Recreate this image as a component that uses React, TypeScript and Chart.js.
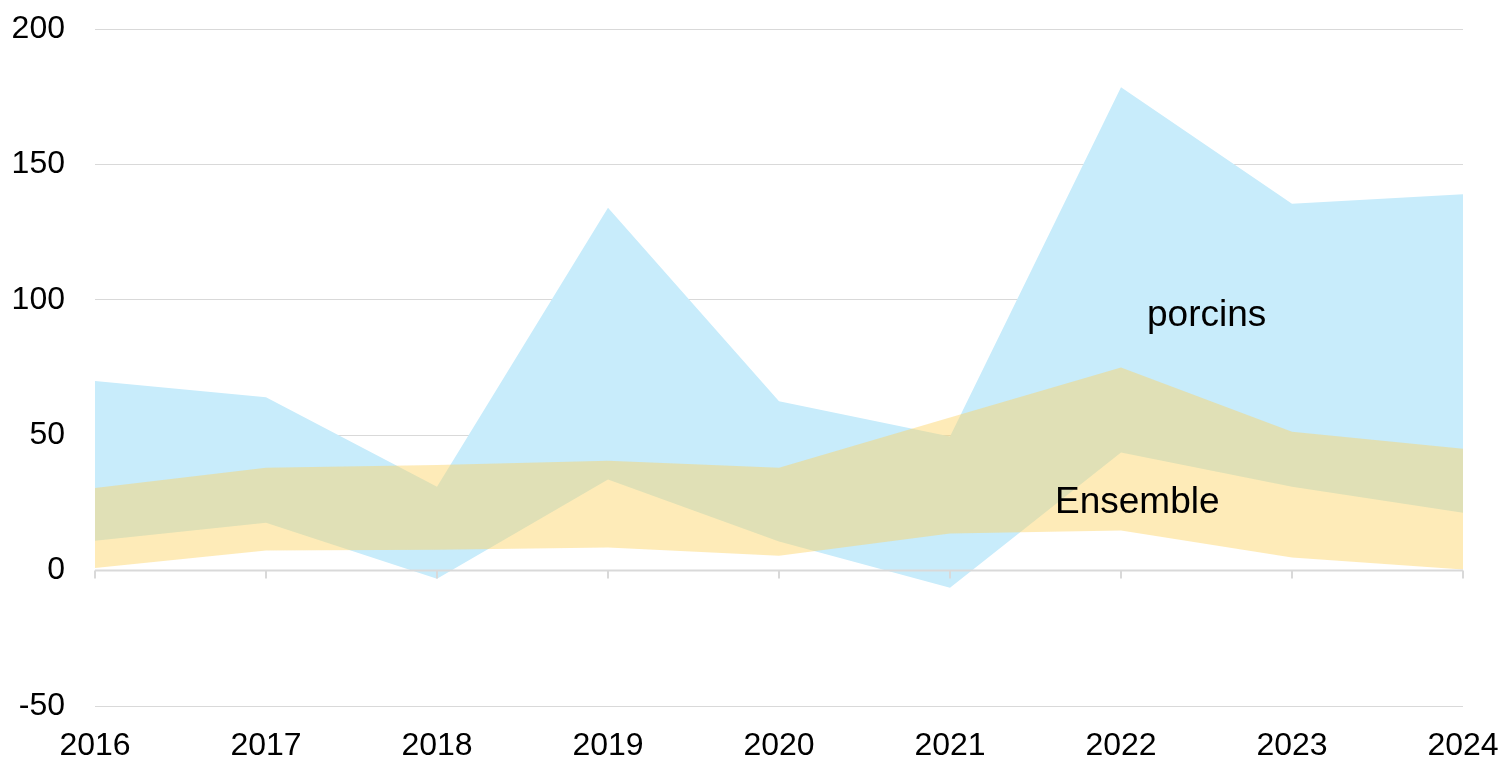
import React, { useEffect, useRef } from "react";
import { Chart, registerables } from "chart.js";

Chart.register(...registerables);

const years = ["2016", "2017", "2018", "2019", "2020", "2021", "2022", "2023", "2024"];
const porcinsHigh = [70, 64, 31, 134, 62.5, 49.5, 178.5, 135.5, 139];
const porcinsLow = [11, 17.7, -3, 33.6, 10.7, -6.3, 43.6, 31, 21.4];
const ensembleHigh = [30.5, 38, 39, 40.6, 38, 56.5, 75, 51.3, 45];
const ensembleLow = [1, 7.4, 7.7, 8.5, 5.5, 13.7, 14.8, 4.8, 0.4];
const yTicks = [-50, 0, 50, 100, 150, 200];

const FONT = "'Liberation Sans', Arial, sans-serif";

const zeroTicksPlugin = {
  id: "zeroTicks",
  afterDatasetsDraw(chart: any) {
    const { ctx, scales } = chart;
    const x = scales.x;
    const y = scales.y;
    const y0 = y.getPixelForValue(0);
    ctx.save();
    ctx.strokeStyle = "#d9d9d9";
    ctx.lineWidth = 2;
    ctx.beginPath();
    ctx.moveTo(x.left, y0);
    ctx.lineTo(x.right, y0);
    for (let i = 0; i < years.length; i++) {
      const px = x.getPixelForValue(i);
      ctx.moveTo(px, y0);
      ctx.lineTo(px, y0 + 8);
    }
    ctx.stroke();
    ctx.restore();
  },
};

const labelsPlugin = {
  id: "bandLabels",
  afterDatasetsDraw(chart: any) {
    const { ctx, scales } = chart;
    const x = scales.x;
    const y = scales.y;
    ctx.save();
    ctx.fillStyle = "#000000";
    ctx.font = `37px ${FONT}`;
    ctx.textAlign = "left";
    ctx.textBaseline = "middle";
    ctx.fillText("porcins", x.getPixelForValue(6) + 26, y.getPixelForValue(94));
    ctx.fillText("Ensemble", x.getPixelForValue(5) + 105, y.getPixelForValue(25));
    ctx.restore();
  },
};

export default function App() {
  const ref = useRef<HTMLCanvasElement | null>(null);

  useEffect(() => {
    document.body.style.margin = "0";
    const canvas = ref.current;
    if (!canvas) return;
    const chart = new Chart(canvas, {
      type: "line",
      data: {
        labels: years,
        datasets: [
          {
            label: "Ensemble haut",
            data: ensembleHigh,
            fill: "+1",
            backgroundColor: "rgba(253,211,97,0.45)",
            borderWidth: 0,
            pointRadius: 0,
            tension: 0,
          },
          {
            label: "Ensemble bas",
            data: ensembleLow,
            fill: false,
            borderWidth: 0,
            pointRadius: 0,
            tension: 0,
          },
          {
            label: "porcins haut",
            data: porcinsHigh,
            fill: "+1",
            backgroundColor: "#c8ecfb",
            borderWidth: 0,
            pointRadius: 0,
            tension: 0,
          },
          {
            label: "porcins bas",
            data: porcinsLow,
            fill: false,
            borderWidth: 0,
            pointRadius: 0,
            tension: 0,
          },
        ],
      },
      options: {
        animation: false,
        responsive: false,
        maintainAspectRatio: false,
        layout: { padding: { left: 0, right: 40, top: 29, bottom: 0 } },
        plugins: {
          legend: { display: false },
          tooltip: { enabled: false },
        },
        scales: {
          x: {
            type: "category",
            offset: false,
            grid: { display: false, drawTicks: false },
            border: { display: false },
            ticks: {
              color: "#000000",
              font: { family: FONT, size: 32 },
              padding: 21,
              maxRotation: 0,
              autoSkip: false,
            },
            afterFit(scale: any) {
              scale.height = 54;
              scale.paddingLeft = 0;
              scale.paddingRight = 0;
            },
          },
          y: {
            min: -50,
            max: 200,
            afterBuildTicks(scale: any) {
              scale.ticks = yTicks.map((v) => ({ value: v }));
            },
            grid: { color: "#d9d9d9", lineWidth: 1, drawTicks: false },
            border: { display: false },
            ticks: {
              color: "#000000",
              font: { family: FONT, size: 32 },
              padding: 30,
            },
            afterFit(scale: any) {
              scale.width = 95;
              scale.paddingTop = 0;
              scale.paddingBottom = 0;
            },
          },
        },
      },
      plugins: [zeroTicksPlugin, labelsPlugin],
    });
    return () => chart.destroy();
  }, []);

  return (
    <div style={{ position: "fixed", left: 0, top: 0, width: 1503, height: 760 }}>
      <canvas ref={ref} width={1503} height={760} style={{ width: 1503, height: 760 }} />
    </div>
  );
}
